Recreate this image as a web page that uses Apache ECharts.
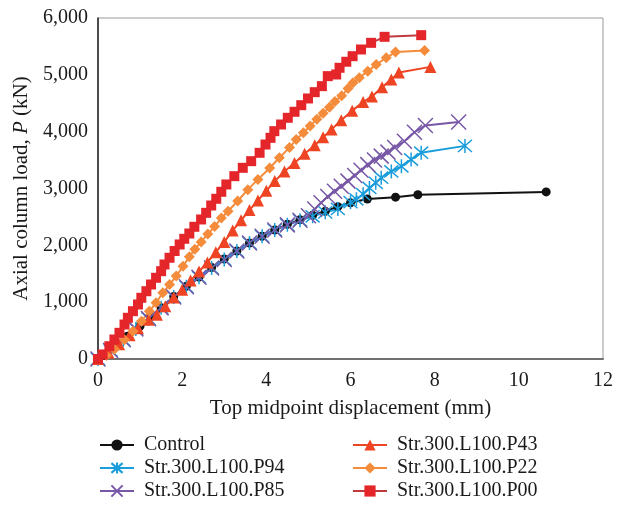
<!DOCTYPE html>
<html>
<head>
<meta charset="utf-8">
<script src="https://cdn.jsdelivr.net/npm/echarts@6/dist/echarts.min.js"></script>
<style>
  html, body { margin: 0; padding: 0; background: #fff; }
  #chart { width: 630px; height: 505px; }
</style>
</head>
<body>
<div id="chart"></div>
<script>
// displacement (mm), load (kN)
const control = [
  [0, 0], [0.15, 60], [0.4, 220], [0.7, 400], [1.0, 580], [1.26, 750], [1.5, 900],
  [1.8, 1100], [2.1, 1280], [2.4, 1440], [2.7, 1610], [3.0, 1760], [3.3, 1900],
  [3.6, 2040], [3.9, 2160], [4.2, 2270], [4.5, 2370], [4.8, 2450], [5.1, 2530],
  [5.4, 2600], [5.7, 2680], [6.0, 2750], [6.4, 2815], [7.07, 2848], [7.6, 2890],
  [10.65, 2940]
]
const p94 = [
  [0, 0], [0.3, 150], [0.6, 340], [0.9, 530], [1.2, 710], [1.5, 900], [1.8, 1090],
  [2.1, 1270], [2.4, 1440], [2.7, 1600], [3.0, 1750], [3.3, 1900], [3.6, 2040],
  [3.9, 2160], [4.2, 2270], [4.5, 2360], [4.8, 2440], [5.1, 2510], [5.4, 2580],
  [5.7, 2640], [6.0, 2760], [6.14, 2810], [6.3, 2900], [6.45, 3010], [6.6, 3100],
  [6.73, 3190], [6.97, 3300], [7.21, 3390], [7.44, 3510], [7.68, 3630], [8.72, 3750]
]
const p85 = [
  [0, 0], [0.3, 150], [0.6, 340], [0.9, 530], [1.2, 710], [1.5, 900], [1.8, 1090],
  [2.1, 1270], [2.4, 1440], [2.7, 1600], [3.0, 1750], [3.3, 1900], [3.6, 2040],
  [3.9, 2160], [4.2, 2270], [4.5, 2360], [4.8, 2440], [5.0, 2520], [5.15, 2640],
  [5.3, 2750], [5.46, 2860], [5.62, 2950], [5.78, 3040], [5.94, 3130], [6.1, 3230],
  [6.25, 3320], [6.41, 3420], [6.57, 3500], [6.73, 3570], [6.89, 3640], [7.05, 3720],
  [7.28, 3830], [7.52, 3990], [7.78, 4110], [8.57, 4170]
]
const p43 = [
  [0, 0], [0.25, 110], [0.5, 260], [0.75, 420], [0.95, 540], [1.2, 690], [1.4, 780],
  [1.6, 930], [1.8, 1080], [2.0, 1220], [2.2, 1380], [2.4, 1540], [2.6, 1700],
  [2.8, 1880], [3.0, 2060], [3.2, 2260], [3.4, 2440], [3.6, 2620], [3.8, 2790],
  [4.0, 2960], [4.2, 3130], [4.43, 3300], [4.67, 3450], [4.91, 3610], [5.15, 3760],
  [5.35, 3900], [5.55, 4040], [5.78, 4200], [6.04, 4370], [6.3, 4520], [6.51, 4620],
  [6.75, 4780], [6.97, 4920], [7.15, 5040], [7.9, 5140]
]
const p22 = [
  [0, 0], [0.2, 60], [0.39, 170], [0.63, 340], [0.83, 490], [1.03, 665], [1.22, 840],
  [1.38, 990], [1.54, 1165], [1.7, 1310], [1.86, 1460], [2.02, 1630], [2.17, 1800],
  [2.3, 1930], [2.45, 2060], [2.61, 2200], [2.77, 2330], [2.93, 2480], [3.09, 2600],
  [3.32, 2780], [3.56, 2980], [3.8, 3160], [4.08, 3360], [4.31, 3540], [4.55, 3720],
  [4.71, 3860], [4.88, 3980], [5.04, 4100], [5.2, 4220], [5.35, 4325], [5.5, 4430],
  [5.63, 4530], [5.79, 4630], [5.94, 4760], [6.06, 4860], [6.21, 4950], [6.41, 5065],
  [6.61, 5180], [6.85, 5300], [7.07, 5400], [7.76, 5430]
]
const p00 = [
  [0, 0], [0.11, 80], [0.27, 225], [0.39, 343], [0.51, 461], [0.63, 607], [0.71, 725],
  [0.83, 841], [0.95, 959], [1.03, 1077], [1.15, 1193], [1.26, 1311], [1.38, 1429],
  [1.5, 1545], [1.58, 1663], [1.7, 1781], [1.82, 1900], [1.94, 2015], [2.05, 2115],
  [2.17, 2208], [2.29, 2326], [2.45, 2455], [2.57, 2572], [2.69, 2701], [2.81, 2819],
  [2.93, 2942], [3.05, 3071], [3.24, 3217], [3.44, 3364], [3.64, 3481], [3.84, 3628],
  [3.98, 3774], [4.1, 3892], [4.19, 4009], [4.35, 4126], [4.51, 4244], [4.67, 4350],
  [4.83, 4466], [4.99, 4584], [5.15, 4695], [5.32, 4801], [5.46, 4977], [5.66, 5006],
  [5.74, 5124], [5.9, 5230], [6.05, 5328], [6.25, 5446], [6.49, 5563], [6.81, 5669],
  [7.68, 5698]
]
const names = [
  'Control', 'Str.300.L100.P94', 'Str.300.L100.P85',
  'Str.300.L100.P43', 'Str.300.L100.P22', 'Str.300.L100.P00'
]

const serif = 'Liberation Serif'
const ink = '#1a1a1a'
const starPath = 'path://M0,-10L0,10M-8.7,-8.7L8.7,8.7M-8.7,8.7L8.7,-8.7'
const crossPath = 'path://M-10,-10L10,10M-10,10L10,-10'

function lineSeries(name, data, opts) {
  return Object.assign({
    name: name,
    type: 'line',
    data: data,
    showAllSymbol: true,
    lineStyle: { width: 2, color: opts.line },
    itemStyle: { color: opts.fill }
  }, opts.extra)
}

function legendColumn(items, left) {
  return {
    data: items,
    orient: 'vertical', left: left, top: 435, padding: 0,
    itemWidth: 34, itemHeight: 14, itemGap: 3,
    textStyle: {
      fontFamily: serif, fontSize: 20, color: ink, lineHeight: 20,
      padding: [0, 0, 0, 5]
    }
  }
}

const chart = echarts.init(document.getElementById('chart'))
chart.setOption({
  animation: false,
  grid: {
    left: 98, right: 27, top: 18, bottom: 146,
    show: true, borderColor: '#9a9a9a', borderWidth: 1
  },
  legend: [
    legendColumn(names.slice(0, 3), 99),
    legendColumn(names.slice(3), 352)
  ],
  xAxis: {
    type: 'value', min: 0, max: 12, interval: 2,
    name: 'Top midpoint displacement (mm)',
    nameLocation: 'middle', nameGap: 39,
    nameTextStyle: { fontFamily: serif, fontSize: 21, color: ink },
    axisLine: { lineStyle: { color: '#707070', width: 2 } },
    axisTick: { show: false },
    splitLine: { show: false },
    axisLabel: { fontFamily: serif, fontSize: 20, color: ink, margin: 12 }
  },
  yAxis: {
    type: 'value', min: 0, max: 6000, interval: 1000,
    name: 'Axial column load, {i|P} (kN)',
    nameLocation: 'middle', nameGap: 57,
    nameTextStyle: {
      fontFamily: serif, fontSize: 21, color: ink,
      rich: { i: { fontFamily: serif, fontSize: 21, color: ink, fontStyle: 'italic' } }
    },
    axisLine: { show: true, lineStyle: { color: '#222', width: 1.5 } },
    axisTick: { show: false },
    splitLine: { show: false },
    axisLabel: {
      fontFamily: serif, fontSize: 20, color: ink, margin: 10,
      formatter: v => v.toLocaleString('en-US')
    }
  },
  series: [
    lineSeries(names[0], control, {
      line: '#111', fill: '#111',
      extra: { symbol: 'circle', symbolSize: 9 }
    }),
    lineSeries(names[1], p94, {
      line: '#1a9ddb', fill: '#1a9ddb',
      extra: {
        symbol: starPath, symbolSize: 14,
        itemStyle: { color: '#1a9ddb', borderColor: '#1a9ddb', borderWidth: 1.5 }
      }
    }),
    lineSeries(names[2], p85, {
      line: '#7858a6', fill: '#7858a6',
      extra: {
        symbol: crossPath, symbolSize: 15,
        itemStyle: { color: '#7858a6', borderColor: '#7858a6', borderWidth: 1.5 }
      }
    }),
    lineSeries(names[3], p43, {
      line: '#ee4423', fill: '#ee4423',
      extra: { symbol: 'triangle', symbolSize: 12 }
    }),
    lineSeries(names[4], p22, {
      line: '#f58c3c', fill: '#f58c3c',
      extra: { symbol: 'diamond', symbolSize: 11 }
    }),
    lineSeries(names[5], p00, {
      line: '#c03a3d', fill: '#e4262b',
      extra: { symbol: 'rect', symbolSize: 10 }
    })
  ]
})
</script>
</body>
</html>
